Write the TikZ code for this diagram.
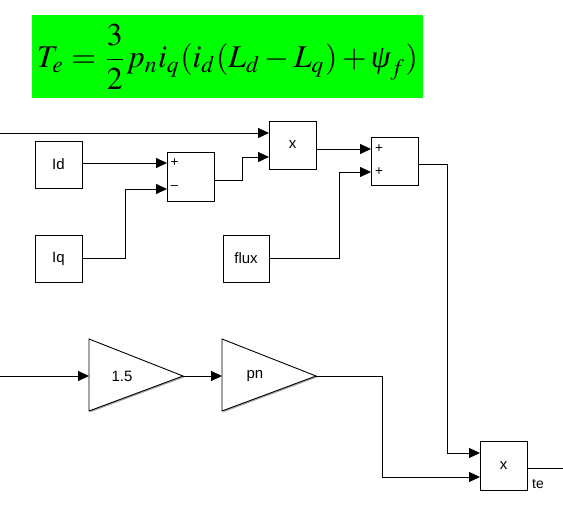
\documentclass[tikz,border=0pt]{standalone}
\usepackage{mathptmx}
\usepackage{graphicx}
\usepackage{fontspec}
\setsansfont{Liberation Sans}
\newfontfamily\tnrfont{Liberation Serif}
\usetikzlibrary{arrows.meta,shadows}
\definecolor{eqgreen}{RGB}{0,255,0}
\begin{document}
\begin{tikzpicture}[x=1pt,y=-1pt,
  shad/.style={drop shadow={shadow xshift=1.3pt,shadow yshift=-1.3pt,fill=black,opacity=0.35}},
  blk/.style={draw,fill=white,line width=0.9pt,inner sep=0pt,shad,
    font=\sffamily\fontsize{15}{17}\selectfont},
  gainshape/.style={draw,fill=white,line width=0.9pt,line join=miter,shad},
  wire/.style={line width=0.8pt,-{Triangle[length=11pt,width=10pt]}},
  plain/.style={line width=0.8pt},
  sign/.style={font=\sffamily\fontsize{13.5}{15}\selectfont,inner sep=0pt}]
\useasboundingbox (0,0) rectangle (563,506);

% equation
\fill[eqgreen] (32,15) rectangle (423,98);
\node (eq) at (227.5,57) {\resizebox{381pt}{!}{$\displaystyle T_e=\frac{3}{2}p_n i_q(i_d(L_d-L_q)+\hbox{\tnrfont\itshape ψ}_f)$}};

% blocks
\node[blk,minimum width=47pt,minimum height=47pt] (Id) at (58.5,164.5) {Id};
\node[blk,minimum width=47pt,minimum height=47pt] (Iq) at (58.5,258.5) {Iq};
\node[blk,minimum width=47pt,minimum height=49pt] (sum1) at (190.5,176.5) {};
\node[blk,minimum width=47pt,minimum height=48pt] (prod1) at (292.5,145) {x};
\node[blk,minimum width=46pt,minimum height=47pt] (flux) at (246,258.5) {flux};
\node[blk,minimum width=47pt,minimum height=48pt] (sum2) at (394.5,161) {};
\node[blk,minimum width=47pt,minimum height=49pt] (prod3) at (503.5,465.5) {x};

\node[sign] (s1p) at (174.5,163) {+};
\node[sign] (s1m) at (174.5,187.5) {\textendash};
\node[sign] (s2p) at (379,149) {+};
\node[sign] (s2q) at (379,172) {+};

% gains
\draw[gainshape] (89,339) -- (183,376) -- (89,411) -- cycle;
\draw[gainshape] (222,339) -- (316,376) -- (222,411) -- cycle;
\node[font=\sffamily\fontsize{15}{17}\selectfont] (g1) at (122,376) {1.5};
\node[font=\sffamily\fontsize{15}{17}\selectfont] (g2) at (255,376) {pn};

% ports
\coordinate (inA) at (0,133);
\coordinate (inB) at (0,376);
\coordinate (s1a) at (167,163);
\coordinate (s1b) at (167,189);
\coordinate (s1out) at (214,180);
\coordinate (p1a) at (269,133);
\coordinate (p1b) at (269,157);
\coordinate (p1out) at (316,149);
\coordinate (s2a) at (371,149);
\coordinate (s2b) at (371,172);
\coordinate (s2out) at (418,164);
\coordinate (p3a) at (480,453);
\coordinate (p3b) at (480,477);
\coordinate (p3out) at (527,468);
\coordinate (outE) at (563,468);
\coordinate (g1in) at (89,376);
\coordinate (g1out) at (183,376);
\coordinate (g2in) at (222,376);
\coordinate (g2out) at (316,376);

% wires
\draw[wire] (inA) -- (p1a);
\draw[wire] (Id.east |- s1a) -- (s1a);
\draw[wire] (Iq.east) -- (125,258.5) -- (125,189) -- (s1b);
\draw[wire] (s1out) -- (242,180) -- (242,157) -- (p1b);
\draw[wire] (p1out) -- (s2a);
\draw[wire] (flux.east) -- (339,258.5) -- (339,172) -- (s2b);
\draw[wire] (s2out) -- (447,164) -- (447,453) -- (p3a);
\draw[wire] (inB) -- (g1in);
\draw[wire] (g1out) -- (g2in);
\draw[wire] (g2out) -- (382,376) -- (382,477) -- (p3b);
\draw[plain] (p3out) -- (outE);
\node[font=\sffamily\fontsize{14}{16}\selectfont,anchor=west,inner sep=0pt] (te) at (532,484) {te};
\end{tikzpicture}
\end{document}
